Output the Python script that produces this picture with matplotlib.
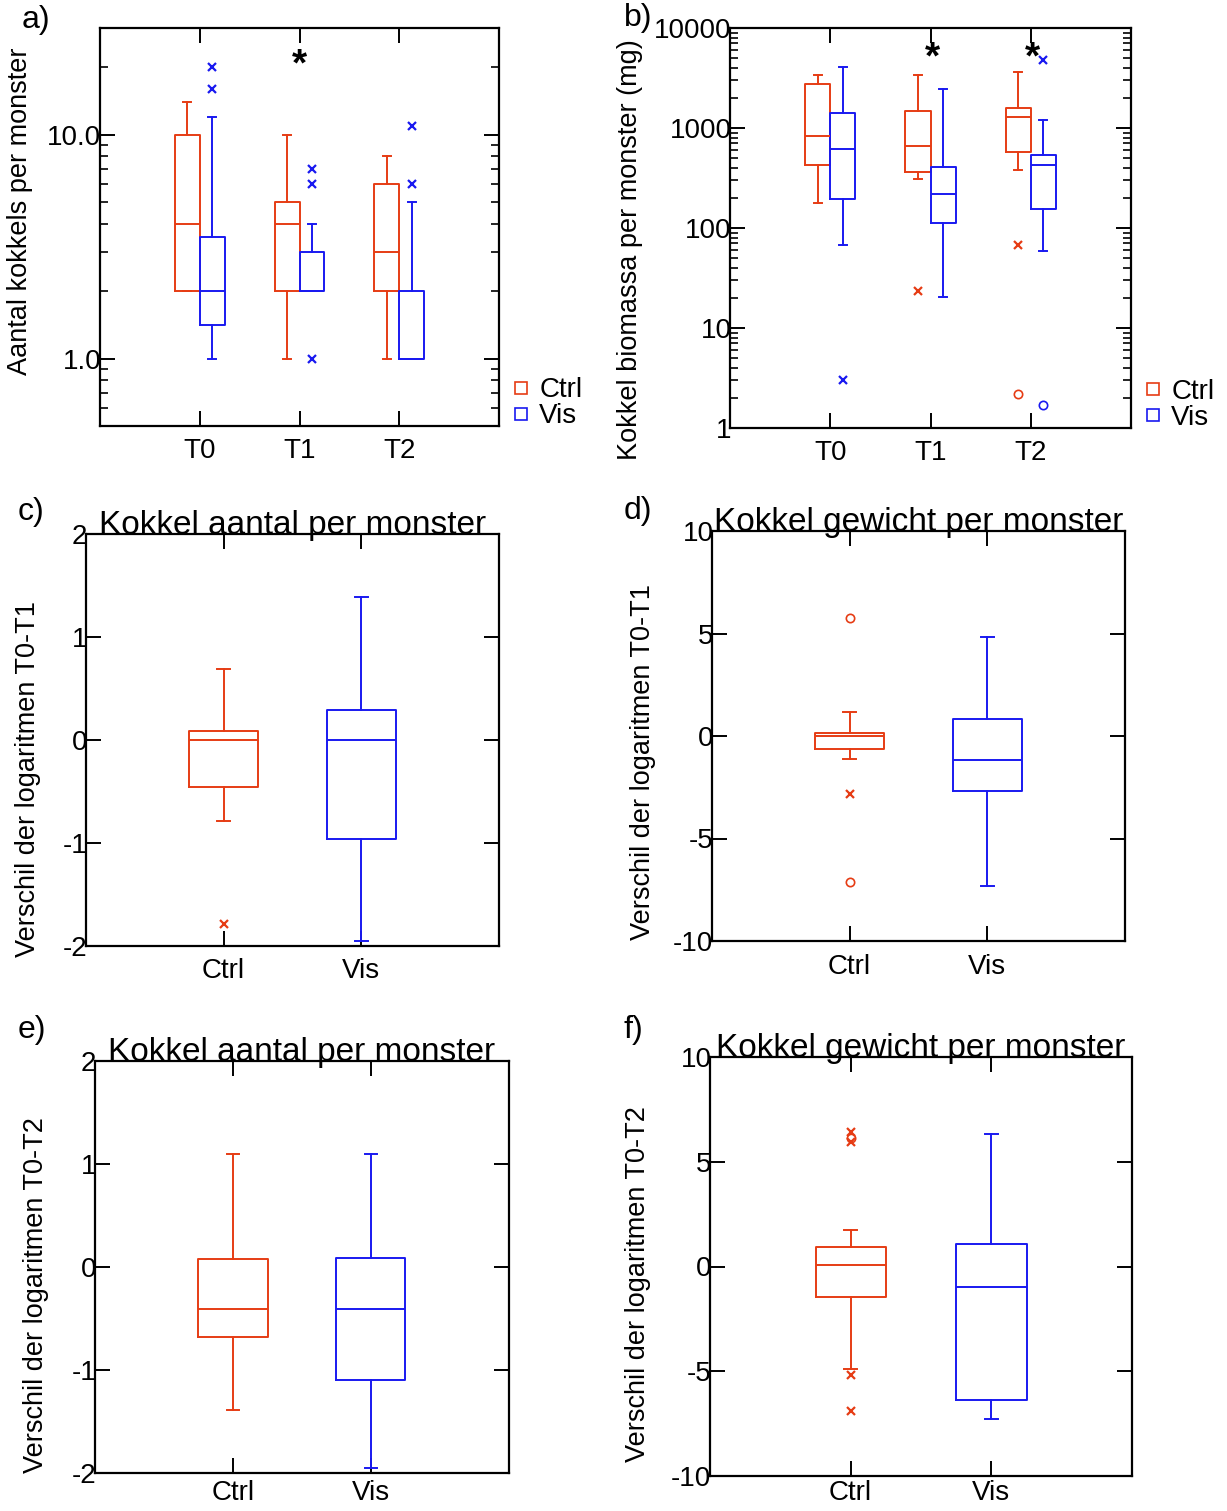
import matplotlib
matplotlib.use('Agg')
import matplotlib.pyplot as plt
from matplotlib.lines import Line2D
from matplotlib.ticker import LogLocator, NullFormatter

plt.rcParams['font.family'] = ['Liberation Sans', 'DejaVu Sans']
plt.rcParams['axes.unicode_minus'] = False

RED = '#e63c14'
BLUE = '#1919f0'

times = ['T0', 'T1', 'T2']
groups = ['Ctrl', 'Vis']

# box stats per group: [whislo, q1, median, q3, whishi]
a_ctrl = [[2.0, 2.0, 4.0, 10.0, 14.0], [1.0, 2.0, 4.0, 5.0, 10.0], [1.0, 2.0, 3.0, 6.0, 8.0]]
a_vis = [[1.0, 1.42, 2.0, 3.5, 12.0], [2.0, 2.0, 2.0, 3.0, 4.0], [1.0, 1.0, 1.0, 2.0, 5.0]]
a_ctrl_out = [[], [], []]
a_vis_out = [[20.0, 16.0], [7.0, 6.0, 1.0], [11.0, 6.0]]
a_stars = ['', '*', '']

b_ctrl = [[178, 430, 838, 2750, 3400], [309, 360, 666, 1470, 3365], [380, 575, 1300, 1585, 3630]]
b_vis = [[68, 195, 621, 1413, 4040], [20.3, 112, 219, 404, 2455], [58.5, 155, 423, 541, 1210]]
b_ctrl_out = [[], [23.6], [68.0]]
b_vis_out = [[3.05], [], [4790]]
b_ctrl_far = [[], [], [2.2]]
b_vis_far = [[], [], [1.71]]
b_stars = ['', '*', '*']

# difference panels: [Ctrl, Vis]
c_stats = [[-0.79, -0.46, 0.0, 0.09, 0.69], [-1.95, -0.96, 0.0, 0.29, 1.39]]
c_out = [[-1.79], []]
c_far = [[], []]

d_stats = [[-1.11, -0.63, 0.0, 0.14, 1.16], [-7.3, -2.69, -1.15, 0.82, 4.82]]
d_out = [[-2.83], []]
d_far = [[5.74, -7.12], []]

e_stats = [[-1.39, -0.68, -0.41, 0.08, 1.1], [-1.95, -1.1, -0.41, 0.09, 1.1]]
e_out = [[], []]
e_far = [[], []]

f_stats = [[-4.89, -1.46, 0.06, 0.92, 1.74], [-7.29, -6.35, -1.0, 1.07, 6.32]]
f_out = [[6.43, 5.92, -5.19, -6.88], []]
f_far = [[6.15], []]

fig = plt.figure(figsize=(12.27, 15.11), dpi=100)


def boxes(ax, stats, positions, color, width, capw):
    st = [dict(whislo=s[0], q1=s[1], med=s[2], q3=s[3], whishi=s[4], fliers=[]) for s in stats]
    lp = dict(color=color, linewidth=1.4)
    ax.bxp(st, positions=positions, widths=width, capwidths=capw, showfliers=False,
           boxprops=lp, whiskerprops=lp, capprops=lp, medianprops=lp, manage_ticks=False)


def points(ax, pos, vals, color, marker):
    if not vals:
        return
    if marker == 'o':
        ax.plot([pos] * len(vals), vals, 'o', mfc='none', mec=color, ms=6, mew=1.2, ls='none')
    else:
        ax.plot([pos] * len(vals), vals, 'x', color=color, ms=6, mew=1.6, ls='none')


def frame(ax, xpad=9):
    for s in ax.spines.values():
        s.set_linewidth(1.6)
    ax.tick_params(which='major', direction='in', top=True, right=True, length=11, width=1.4,
                   labelsize=20)
    ax.tick_params(axis='y', which='major', pad=-1)
    ax.tick_params(axis='x', which='major', pad=xpad)
    ax.tick_params(which='minor', direction='in', left=True, right=True, top=False, bottom=False,
                   length=6, width=1.2)


def legend(ax, x, y):
    h = [Line2D([], [], marker='s', ls='none', mfc='none', mec=RED, ms=9, mew=1.2),
         Line2D([], [], marker='s', ls='none', mfc='none', mec=BLUE, ms=9, mew=1.2)]
    ax.legend(h, groups, loc='upper left', bbox_to_anchor=(x, y), frameon=False, fontsize=20,
              handletextpad=0.25, labelspacing=0.0, borderaxespad=0, handlelength=0.8)


# ---- a ----
ax = fig.add_axes([100 / 1227, 1 - 426 / 1511, 399 / 1227, 398 / 1511])
pos = [1, 2, 3]
boxes(ax, a_ctrl, [p - 0.125 for p in pos], RED, 0.25, 0.08)
boxes(ax, a_vis, [p + 0.125 for p in pos], BLUE, 0.25, 0.08)
for i, p in enumerate(pos):
    points(ax, p - 0.125, a_ctrl_out[i], RED, 'x')
    points(ax, p + 0.125, a_vis_out[i], BLUE, 'x')
    if a_stars[i]:
        ax.text(p, 20.3, a_stars[i], ha='center', va='center', fontsize=28, fontweight='bold')
ax.set_yscale('log')
ax.set_ylim(0.5, 30)
ax.set_xlim(0, 4)
ax.set_yticks([1, 10])
ax.set_yticklabels(['1.0', '10.0'])
ax.yaxis.set_minor_locator(LogLocator(base=10, subs=[2, 3, 4, 5, 6, 7, 8, 9]))
ax.yaxis.set_minor_formatter(NullFormatter())
ax.set_xticks(pos)
ax.set_xticklabels(times)
frame(ax)
ax.set_ylabel('Aantal kokkels per monster', fontsize=19.5)
ax.yaxis.set_label_coords(-0.168, 0.54)
legend(ax, 1.0, 0.15)
fig.text(22 / 1227, 1 - 20 / 1511, 'a)', fontsize=23, va='center')

# ---- b ----
ax = fig.add_axes([730 / 1227, 1 - 428 / 1511, 401 / 1227, 400 / 1511])
boxes(ax, b_ctrl, [p - 0.125 for p in pos], RED, 0.25, 0.08)
boxes(ax, b_vis, [p + 0.125 for p in pos], BLUE, 0.25, 0.08)
for i, p in enumerate(pos):
    points(ax, p - 0.125, b_ctrl_out[i], RED, 'x')
    points(ax, p + 0.125, b_vis_out[i], BLUE, 'x')
    points(ax, p - 0.125, b_ctrl_far[i], RED, 'o')
    points(ax, p + 0.125, b_vis_far[i], BLUE, 'o')
    if b_stars[i]:
        ax.text(p + 0.02, 4900, b_stars[i], ha='center', va='center', fontsize=28, fontweight='bold')
ax.set_yscale('log')
ax.set_ylim(1, 10000)
ax.set_xlim(0, 4)
ax.set_yticks([1, 10, 100, 1000, 10000])
ax.set_yticklabels(['1', '10', '100', '1000', '10000'])
ax.yaxis.set_minor_locator(LogLocator(base=10, subs=[2, 3, 4, 5, 6, 7, 8, 9]))
ax.yaxis.set_minor_formatter(NullFormatter())
ax.set_xticks(pos)
ax.set_xticklabels(times)
frame(ax)
ax.set_ylabel('Kokkel biomassa per monster (mg)', fontsize=19.5)
ax.yaxis.set_label_coords(-0.217, 0.445)
legend(ax, 1.0, 0.15)
fig.text(624 / 1227, 1 - 18 / 1511, 'b)', fontsize=23, va='center')

# ---- c-f ----
diff_panels = [
    ('c)', [86, 534, 499, 946], c_stats, c_out, c_far, (-2, 2), [-2, -1, 0, 1, 2],
     'Kokkel aantal per monster', 'Verschil der logaritmen T0-T1', (-0.109, 0.405), (18, 512), 9),
    ('d)', [712, 531, 1125, 941], d_stats, d_out, d_far, (-10, 10), [-10, -5, 0, 5, 10],
     'Kokkel gewicht per monster', 'Verschil der logaritmen T0-T1', (-0.136, 0.437), (624, 511), 9),
    ('e)', [95, 1061, 509, 1473], e_stats, e_out, e_far, (-2, 2), [-2, -1, 0, 1, 2],
     'Kokkel aantal per monster', 'Verschil der logaritmen T0-T2', (-0.111, 0.432), (18, 1030), 5),
    ('f)', [710, 1057, 1132, 1476], f_stats, f_out, f_far, (-10, 10), [-10, -5, 0, 5, 10],
     'Kokkel gewicht per monster', 'Verschil der logaritmen T0-T2', (-0.140, 0.458), (624, 1030), 3),
]

for lab, box, stats, outs, fars, ylim, yt, title, ylab, lc, lp, xpad in diff_panels:
    l, t, r, b = box
    ax = fig.add_axes([l / 1227, 1 - b / 1511, (r - l) / 1227, (b - t) / 1511])
    colors = [RED, BLUE]
    for i in range(2):
        boxes(ax, [stats[i]], [i + 1], colors[i], 0.5, 0.09)
        points(ax, i + 1, outs[i], colors[i], 'x')
        points(ax, i + 1, fars[i], colors[i], 'o')
    ax.set_xlim(0, 3)
    ax.set_ylim(*ylim)
    ax.set_yticks(yt)
    ax.set_xticks([1, 2])
    ax.set_xticklabels(groups)
    frame(ax, xpad)
    ax.set_title(title, fontsize=24, pad=0)
    ax.set_ylabel(ylab, fontsize=19.5)
    ax.yaxis.set_label_coords(*lc)
    fig.text(lp[0] / 1227, 1 - lp[1] / 1511, lab, fontsize=23, va='center')

fig.savefig('out.png', dpi=100)
